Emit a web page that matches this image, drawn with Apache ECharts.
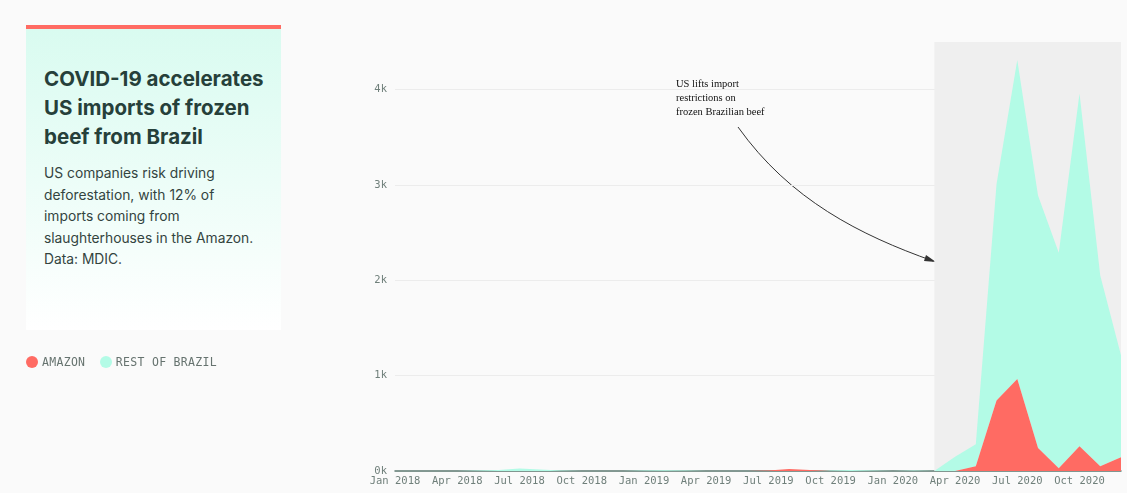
<!DOCTYPE html>
<html><head><meta charset="utf-8">
<script src="https://cdn.jsdelivr.net/npm/echarts@6/dist/echarts.min.js"></script>
<style>
body{margin:0;background:#fafafa;width:1127px;height:493px;overflow:hidden;font-family:"Inter","Noto Sans",sans-serif}
#card{position:absolute;left:26px;top:25px;width:255px;height:305px;border-top:4px solid #ff6b63;box-sizing:border-box;background:linear-gradient(#d9fbf0,#ffffff);padding:35px 14px 0 18px;color:#26403a}
#card h1{margin:0 0 12px 0;font-size:20.5px;line-height:29px;font-weight:700}
#card p{margin:0;font-size:13.8px;line-height:21.5px;color:#33443f}
#legend{position:absolute;left:26px;top:355px;font-family:"DejaVu Sans Mono",monospace;font-size:11.5px;color:#66736f;letter-spacing:0.3px}
#legend span.d{display:inline-block;width:12px;height:12px;border-radius:6px;vertical-align:-2px;margin-right:4px}
#chart{position:absolute;left:0;top:0;width:1127px;height:493px}
</style></head><body>
<div id="chart"></div>
<div id="card"><h1>COVID-19 accelerates US imports of frozen beef from Brazil</h1><p>US companies risk driving deforestation, with 12% of imports coming from slaughterhouses in the Amazon. Data: MDIC.</p></div>
<div id="legend"><span class="d" style="background:#ff6b63"></span>AMAZON &nbsp;<span class="d" style="background:#b3fbe6"></span>REST OF BRAZIL</div>
<script>
const months=['Jan','Feb','Mar','Apr','May','Jun','Jul','Aug','Sep','Oct','Nov','Dec'];
const categories=[];
for(const y of [2018,2019,2020]) for(const m of months) categories.push(m+' '+y);
const amazon=[0,0,0,0,0,0,0,0,0,0,0,0, 0,0,0,0,0,0,5,20,10,0,0,0, 0,0,0,0,50,740,965,240,30,260,50,145];
const restOfBrazil=[0,0,0,0,5,10,25,15,5,0,0,0, 5,8,5,0,0,0,0,0,0,5,10,5, 0,5,0,150,230,2270,3345,2650,2260,3700,2000,1070];
const yTicks=[0,1000,2000,3000,4000];
const chart=echarts.init(document.getElementById('chart'));
chart.setOption({
 animation:false,
 grid:{left:395,right:6,top:42,bottom:22},
 xAxis:{type:'category',data:categories,boundaryGap:false,
  axisLine:{lineStyle:{color:'#5d7a72',width:1.5}},axisTick:{show:false},
  axisLabel:{interval:2,color:'#6f7f7a',fontFamily:'DejaVu Sans Mono',fontSize:10.5,margin:5},
  splitLine:{show:false}},
 yAxis:{type:'value',min:0,max:4500,interval:500,
  axisLine:{show:false},axisTick:{show:false},
  axisLabel:{color:'#6f7f7a',fontFamily:'DejaVu Sans Mono',fontSize:10.5,margin:8,
   formatter:v=>yTicks.includes(v)?(v/1000)+'k':''},
  splitLine:{lineStyle:{color:['#ececec','transparent','#ececec','transparent','#ececec','transparent','#ececec','transparent','#ececec','transparent']}}},
 series:[
  {name:'AMAZON',type:'line',stack:'t',data:amazon,symbol:'none',lineStyle:{width:0},areaStyle:{color:'#ff6b63',opacity:1},z:3,
   markArea:{silent:true,itemStyle:{color:'#efefef'},data:[[{xAxis:'Mar 2020'},{xAxis:'Dec 2020'}]]}},
  {name:'REST OF BRAZIL',type:'line',stack:'t',data:restOfBrazil,symbol:'none',lineStyle:{width:0},areaStyle:{color:'#b3fbe6',opacity:1},z:2}
 ],
 graphic:[
  {type:'text',left:676,top:77,style:{text:'US lifts import\nrestrictions on\nfrozen Brazilian beef',font:'10.5px "Liberation Serif"',fill:'#111',lineHeight:14}},
  {type:'bezierCurve',shape:{x1:738,y1:127,cpx1:790,cpy1:200,cpx2:860,cpy2:235,x2:933,y2:261},style:{stroke:'#333',lineWidth:1,fill:null}},
  {type:'polygon',shape:{points:[[936,262],[926,255],[924,261]]},style:{fill:'#333'}}
 ]
});
</script></body></html>
